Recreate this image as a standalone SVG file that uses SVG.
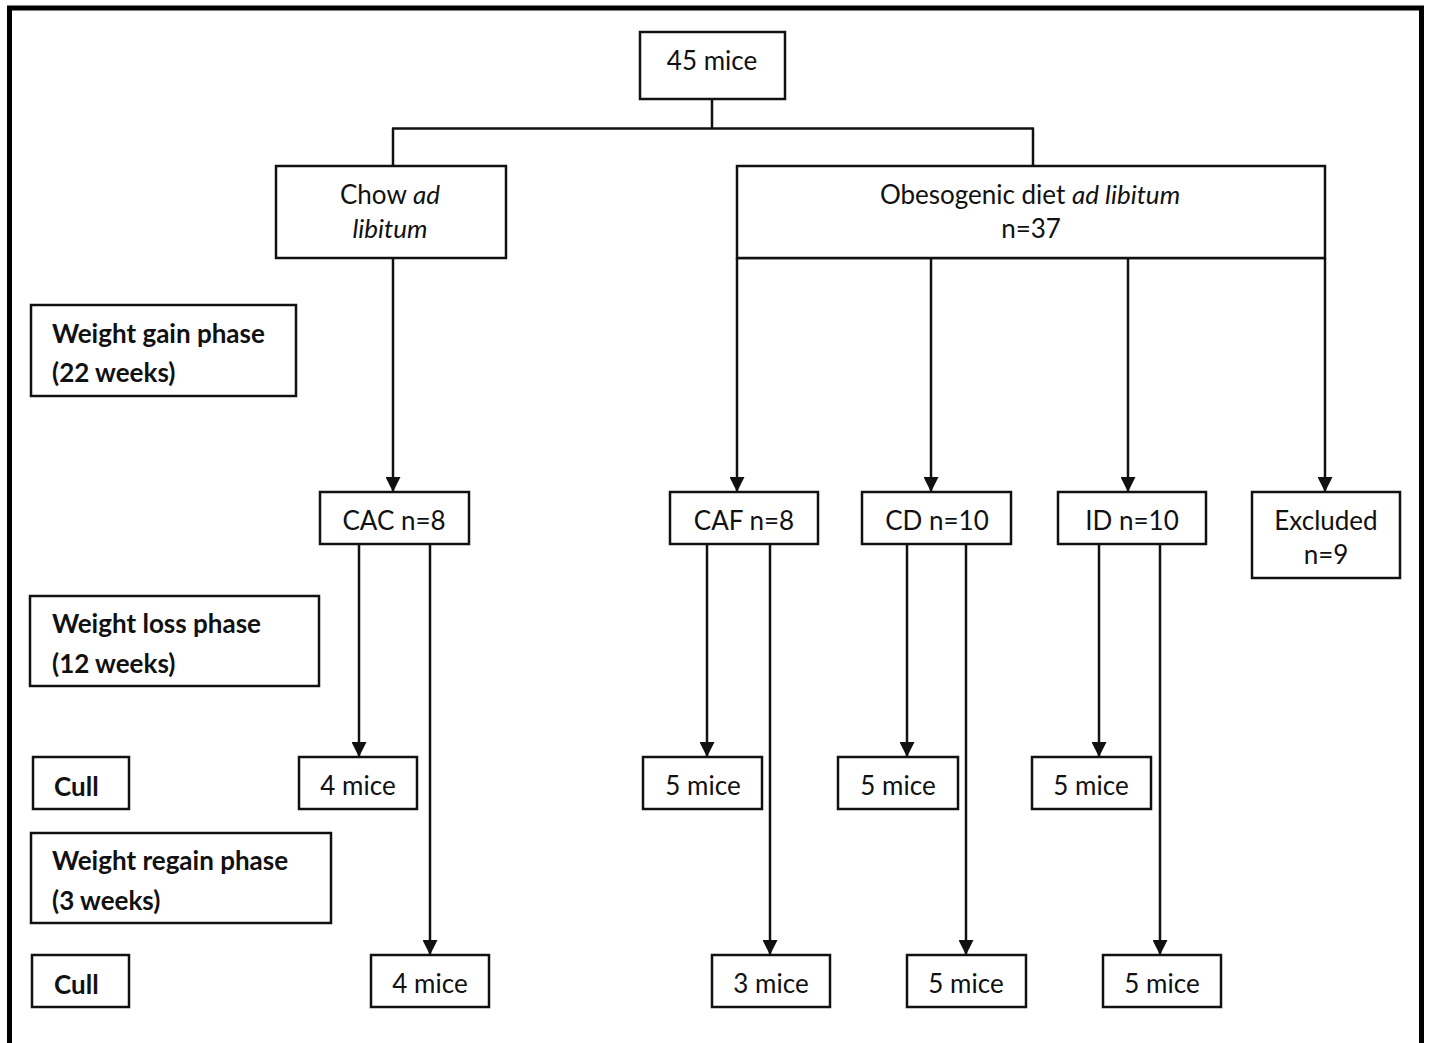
<svg xmlns="http://www.w3.org/2000/svg" width="1429" height="1043" viewBox="0 0 1429 1043">
<style>
.b{fill:#fff;stroke:#111;stroke-width:2.5}
.t{font-family:Lato,"Liberation Sans",sans-serif;font-size:26px;fill:#111;text-anchor:middle}
.l{font-family:Lato,"Liberation Sans",sans-serif;font-size:26px;font-weight:bold;fill:#111}
.c{fill:none;stroke:#111;stroke-width:2.5}
</style>
<defs>
<marker id="a" markerWidth="15" markerHeight="15" viewBox="0 0 15 15" refX="15" refY="7.5" orient="auto" markerUnits="userSpaceOnUse">
<path d="M0,0 L15,7.5 L0,15 Z" fill="#111"/>
</marker>
</defs>
<rect x="0" y="0" width="1429" height="1043" fill="#fff"/>
<rect x="9.5" y="8" width="1412" height="1060" fill="none" stroke="#000" stroke-width="5"/>
<g id="connectors">
<path class="c" d="M712,99 V128.5 M392,128.5 H1034 M393,128.5 V165 M1033,128.5 V165"/>
<path class="c" d="M738,258 H1325"/>
<line class="c" x1="393" y1="258" x2="393" y2="492" marker-end="url(#a)"/>
<line class="c" x1="737" y1="258" x2="737" y2="492" marker-end="url(#a)"/>
<line class="c" x1="931" y1="258" x2="931" y2="492" marker-end="url(#a)"/>
<line class="c" x1="1128" y1="258" x2="1128" y2="492" marker-end="url(#a)"/>
<line class="c" x1="1325" y1="258" x2="1325" y2="492" marker-end="url(#a)"/>
<line class="c" x1="359" y1="544" x2="359" y2="757" marker-end="url(#a)"/>
<line class="c" x1="430" y1="544" x2="430" y2="955" marker-end="url(#a)"/>
<line class="c" x1="707" y1="544" x2="707" y2="757" marker-end="url(#a)"/>
<line class="c" x1="770" y1="544" x2="770" y2="955" marker-end="url(#a)"/>
<line class="c" x1="907" y1="544" x2="907" y2="757" marker-end="url(#a)"/>
<line class="c" x1="966" y1="544" x2="966" y2="955" marker-end="url(#a)"/>
<line class="c" x1="1099" y1="544" x2="1099" y2="757" marker-end="url(#a)"/>
<line class="c" x1="1160" y1="544" x2="1160" y2="955" marker-end="url(#a)"/>
</g>
<g id="n45"><rect class="b" x="640" y="32" width="145" height="67"/><text class="t" x="712" y="70">45 mice</text></g>
<g id="chow"><rect class="b" x="276" y="166" width="230" height="92"/><text class="t" x="390" y="204">Chow <tspan font-style="italic">ad</tspan></text><text class="t" x="390" y="238" font-style="italic">libitum</text></g>
<g id="obeso"><rect class="b" x="737" y="166" width="588" height="92"/><text class="t" x="1030" y="204">Obesogenic diet <tspan font-style="italic">ad libitum</tspan></text><text class="t" x="1031" y="238">n=37</text></g>
<g id="gain"><rect class="b" x="31" y="305" width="265" height="91"/><text class="l" x="52" y="343">Weight gain phase</text><text class="l" x="52" y="382">(22 weeks)</text></g>
<g id="cac"><rect class="b" x="320" y="492" width="149" height="52"/><text class="t" x="394" y="530">CAC n=8</text></g>
<g id="caf"><rect class="b" x="670" y="492" width="148" height="52"/><text class="t" x="744" y="530">CAF n=8</text></g>
<g id="cd"><rect class="b" x="862" y="492" width="149" height="52"/><text class="t" x="937" y="530">CD n=10</text></g>
<g id="id"><rect class="b" x="1058" y="492" width="148" height="52"/><text class="t" x="1132" y="530">ID n=10</text></g>
<g id="excl"><rect class="b" x="1252" y="492" width="148" height="86"/><text class="t" x="1326" y="530">Excluded</text><text class="t" x="1326" y="564">n=9</text></g>
<g id="loss"><rect class="b" x="30" y="596" width="289" height="90"/><text class="l" x="52" y="633">Weight loss phase</text><text class="l" x="52" y="673">(12 weeks)</text></g>
<g id="cull1"><rect class="b" x="33" y="757" width="96" height="52"/><text class="l" x="54" y="796">Cull</text></g>
<g id="m1"><rect class="b" x="299" y="757" width="118" height="52"/><text class="t" x="358" y="795">4 mice</text></g>
<g id="m2"><rect class="b" x="643" y="757" width="119" height="52"/><text class="t" x="703" y="795">5 mice</text></g>
<g id="m3"><rect class="b" x="838" y="757" width="120" height="52"/><text class="t" x="898" y="795">5 mice</text></g>
<g id="m4"><rect class="b" x="1032" y="757" width="119" height="52"/><text class="t" x="1091" y="795">5 mice</text></g>
<g id="regain"><rect class="b" x="31" y="833" width="300" height="90"/><text class="l" x="52" y="870">Weight regain phase</text><text class="l" x="52" y="910">(3 weeks)</text></g>
<g id="cull2"><rect class="b" x="32" y="955" width="97" height="52"/><text class="l" x="54" y="994">Cull</text></g>
<g id="m5"><rect class="b" x="371" y="955" width="118" height="52"/><text class="t" x="430" y="993">4 mice</text></g>
<g id="m6"><rect class="b" x="712" y="955" width="118" height="52"/><text class="t" x="771" y="993">3 mice</text></g>
<g id="m7"><rect class="b" x="907" y="955" width="119" height="52"/><text class="t" x="966" y="993">5 mice</text></g>
<g id="m8"><rect class="b" x="1103" y="955" width="118" height="52"/><text class="t" x="1162" y="993">5 mice</text></g>
</svg>
